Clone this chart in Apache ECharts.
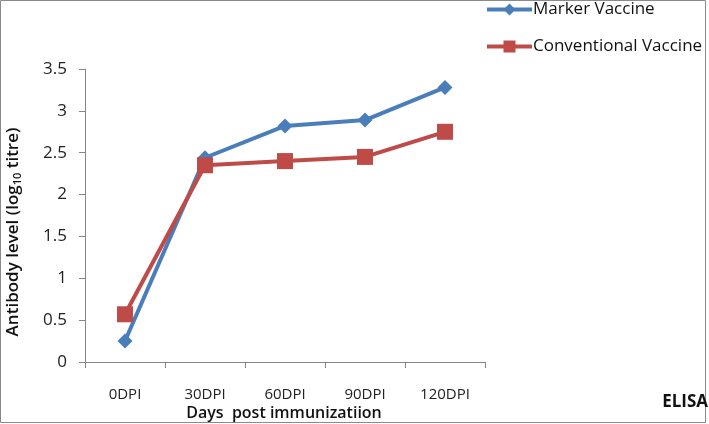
<!DOCTYPE html>
<html>
<head>
<meta charset="utf-8">
<script src="https://cdn.jsdelivr.net/npm/echarts@6/dist/echarts.min.js"></script>
<style>html,body{margin:0;padding:0;background:#fff}#c{width:709px;height:424px}</style>
</head>
<body>
<div id="c"></div>
<script>
const categories = ['0DPI', '30DPI', '60DPI', '90DPI', '120DPI'];
const markerVaccine = [0.25, 2.44, 2.82, 2.89, 3.28];
const conventionalVaccine = [0.57, 2.35, 2.40, 2.45, 2.75];
const seriesNames = ['Marker Vaccine', 'Conventional Vaccine'];
const yTicks = { min: 0, max: 3.5, interval: 0.5 };

const FONT = '"Open Sans", "Noto Sans", sans-serif';
const chart = echarts.init(document.getElementById('c'), null, { renderer: 'canvas' });
chart.setOption({
  animation: false,
  backgroundColor: '#fff',
  grid: { left: 85, right: 224, top: 69, bottom: 62 },
  legend: {
    orient: 'vertical',
    left: 480, top: -4,
    itemWidth: 45, itemHeight: 15, itemGap: 20,
    lineStyle: { width: 4 },
    textStyle: { fontFamily: FONT, fontSize: 17, color: '#111', padding: [0, 0, 0, -4] },
    data: seriesNames
  },
  xAxis: {
    type: 'category',
    data: categories,
    boundaryGap: true,
    axisLine: { lineStyle: { color: '#868686', width: 1 } },
    axisTick: { show: true, length: 6, lineStyle: { color: '#868686' } },
    axisLabel: { margin: 25, fontFamily: FONT, fontSize: 15, color: '#222' }
  },
  yAxis: {
    type: 'value',
    min: yTicks.min, max: yTicks.max, interval: yTicks.interval,
    splitLine: { show: false },
    axisLine: { show: true, lineStyle: { color: '#868686', width: 1 } },
    axisTick: { show: true, length: 6, lineStyle: { color: '#868686' } },
    axisLabel: { margin: 18, fontFamily: FONT, fontSize: 17, color: '#222' }
  },
  series: [
    {
      name: seriesNames[0], type: 'line', data: markerVaccine,
      symbol: 'diamond', symbolSize: 15,
      color: '#4A7EBB',
      lineStyle: { width: 4, color: '#4A7EBB' },
      itemStyle: { color: '#4A7EBB' }
    },
    {
      name: seriesNames[1], type: 'line', data: conventionalVaccine,
      symbol: 'rect', symbolSize: 16,
      color: '#BE4B48',
      lineStyle: { width: 4, color: '#BE4B48' },
      itemStyle: { color: '#BE4B48' }
    }
  ],
  graphic: [
    { type: 'rect', shape: { x: 0.5, y: 0.5, width: 705, height: 422 }, style: { fill: 'none', stroke: '#8a8a8a', lineWidth: 1 }, silent: true },
    {
      type: 'text', x: 13, y: 232, rotation: Math.PI / 2,
      style: {
        text: '{a|Antibody level (log}{s|10}{a| titre)}',
        align: 'center', verticalAlign: 'middle',
        rich: {
          a: { fontFamily: FONT, fontSize: 17, fontWeight: 600, fill: '#111' },
          s: { fontFamily: FONT, fontSize: 11, fontWeight: 600, fill: '#111', padding: [9, 0, 0, 0] }
        }
      }
    },
    {
      type: 'text', x: 284, y: 413,
      style: { text: 'Days  post immunizatiion', align: 'center', verticalAlign: 'middle', fontFamily: FONT, fontSize: 16, fontWeight: 600, fill: '#111' }
    },
    {
      type: 'text', x: 708, y: 402,
      style: { text: 'ELISA', align: 'right', verticalAlign: 'middle', fontFamily: FONT, fontSize: 17, fontWeight: 'bold', fill: '#111' }
    }
  ]
});
</script>
</body>
</html>
